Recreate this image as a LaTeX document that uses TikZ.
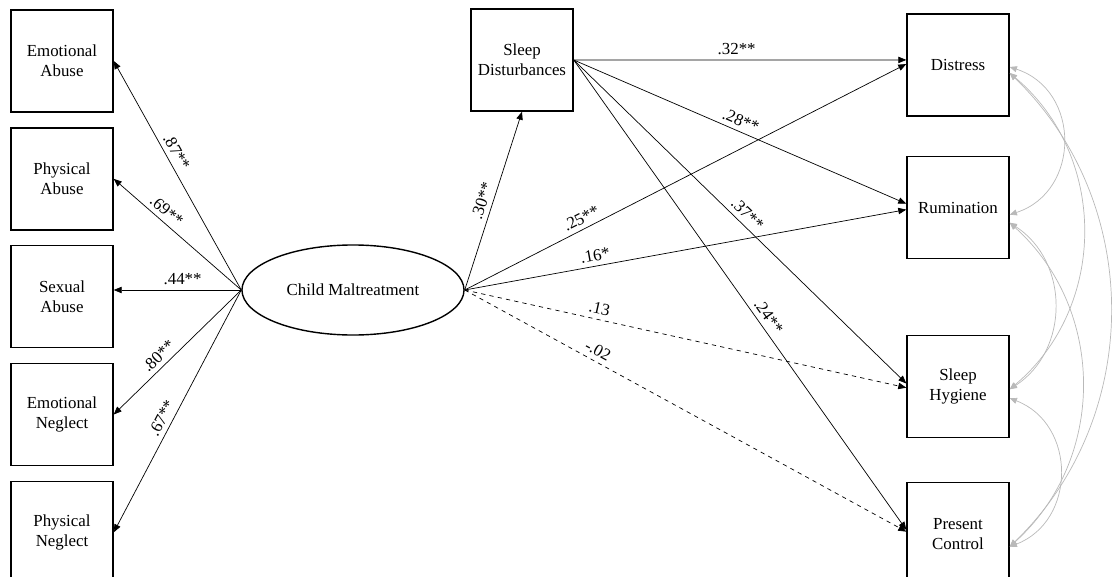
\documentclass[tikz,border=0pt]{standalone}
\usepackage{fontspec}
\setmainfont{Liberation Serif}
\usepackage{tikz}
\usetikzlibrary{arrows.meta,positioning,shapes.geometric}
\tikzset{
    path_arr/.style={-{Triangle[length=2mm, width=1.6mm]}, line width=0.5pt, black},
    ns_arr/.style={path_arr, dashed},
    cov_arr/.style={{Triangle[length=1.8mm, width=1.5mm]}-{Triangle[length=1.8mm, width=1.5mm]}, line width=0.5pt, gray!55},
    coef/.style={font=\fontsize{12}{14}\selectfont, sloped, above}
}

\begin{document}
\begin{tikzpicture}[
    x=0.025cm, y=-0.025cm,
    obs_node/.style={draw, line width=1pt, minimum width=2.55cm, minimum height=2.55cm, align=center, inner sep=2pt, font=\fontsize{12}{14.2}\selectfont},
    latent_node/.style={ellipse, draw, line width=1pt, minimum width=5.55cm, minimum height=2.25cm, font=\fontsize{12}{14.2}\selectfont}
]
  \useasboundingbox (0,0) rectangle (1115,577);

  % Latent factor
  \node[latent_node] (child_mt) at (353,290) {Child Maltreatment};

  % Indicators
  \node[obs_node] (emo_abuse) at (62,61) {Emotional\\Abuse};
  \node[obs_node, below=0.36cm of emo_abuse] (phys_abuse) {Physical\\Abuse};
  \node[obs_node, below=0.36cm of phys_abuse] (sex_abuse) {Sexual\\Abuse};
  \node[obs_node, below=0.36cm of sex_abuse] (emo_neglect) {Emotional\\Neglect};
  \node[obs_node, below=0.36cm of emo_neglect] (phys_neglect) {Physical\\Neglect};

  % Mediator
  \node[obs_node] (sleep_dist) at (522,60) {Sleep\\Disturbances};

  % Outcomes
  \node[obs_node] (distress) at (958,65) {Distress};
  \node[obs_node, below=0.98cm of distress] (rumination) {Rumination};
  \node[obs_node, below=1.88cm of rumination] (sleep_hyg) {Sleep\\Hygiene};
  \node[obs_node, below=1.1cm of sleep_hyg] (present_ctrl) {Present\\Control};

  % Loadings
  \draw[path_arr] (child_mt.west) -- node[coef, pos=0.58]{.87**} (emo_abuse.east);
  \draw[path_arr] (child_mt.west) -- node[coef, pos=0.64]{.69**} (phys_abuse.east);
  \draw[path_arr] (child_mt.west) -- node[coef, pos=0.46]{.44**} (child_mt.west -| sex_abuse.east);
  \draw[path_arr] (child_mt.west) -- node[coef, pos=0.59]{.80**} (emo_neglect.east);
  \draw[path_arr] (child_mt.west) -- node[coef, pos=0.55]{.67**} (phys_neglect.east);

  % Child maltreatment -> mediator and outcomes
  \draw[path_arr] (child_mt.east) -- node[coef, pos=0.48]{.30**} (sleep_dist.south);
  \draw[path_arr] (child_mt.east) -- node[coef, pos=0.275]{.25**} ([yshift=0.7pt]distress.west);
  \draw[path_arr] (child_mt.east) -- node[coef, pos=0.3]{.16*} ([yshift=-1.4pt]rumination.west);
  \draw[ns_arr] (child_mt.east) -- node[coef, pos=0.3]{.13} ([yshift=-1pt]sleep_hyg.west);
  \draw[ns_arr] (child_mt.east) -- node[coef, pos=0.29]{-.02} ([yshift=1.5pt]present_ctrl.west);

  % Sleep disturbances -> outcomes
  \draw[path_arr] (sleep_dist.east) -- node[coef, pos=0.49]{.32**} ([yshift=3.6pt]distress.west);
  \draw[path_arr] (sleep_dist.east) -- node[coef, pos=0.49]{.28**} ([yshift=2.8pt]rumination.west);
  \draw[path_arr] (sleep_dist.east) -- node[coef, pos=0.5]{.37**} ([yshift=2pt]sleep_hyg.west);
  \draw[path_arr] (sleep_dist.east) -- node[coef, pos=0.56]{.24**} ([yshift=2.8pt]present_ctrl.west);

  % Residual covariances
  \draw[cov_arr] ([yshift=-1.4pt]distress.east) to[bend left=72, looseness=1.3] ([yshift=-5pt]rumination.east);
  \draw[cov_arr] ([yshift=-5.7pt]distress.east) to[bend left=50, looseness=1.04] ([yshift=-2.1pt]sleep_hyg.east);
  \draw[cov_arr] ([yshift=-5.7pt]distress.east) to[bend left=46, looseness=1.01] ([yshift=-9.2pt]present_ctrl.east);
  \draw[cov_arr] ([yshift=-10.7pt]rumination.east) to[bend left=57, looseness=1.1] ([yshift=-2.1pt]sleep_hyg.east);
  \draw[cov_arr] ([yshift=-10.7pt]rumination.east) to[bend left=48, looseness=1.03] ([yshift=-9.2pt]present_ctrl.east);
  \draw[cov_arr] ([yshift=-8.5pt]sleep_hyg.east) to[bend left=69, looseness=1.24] ([yshift=-9.2pt]present_ctrl.east);

\end{tikzpicture}
\end{document}
